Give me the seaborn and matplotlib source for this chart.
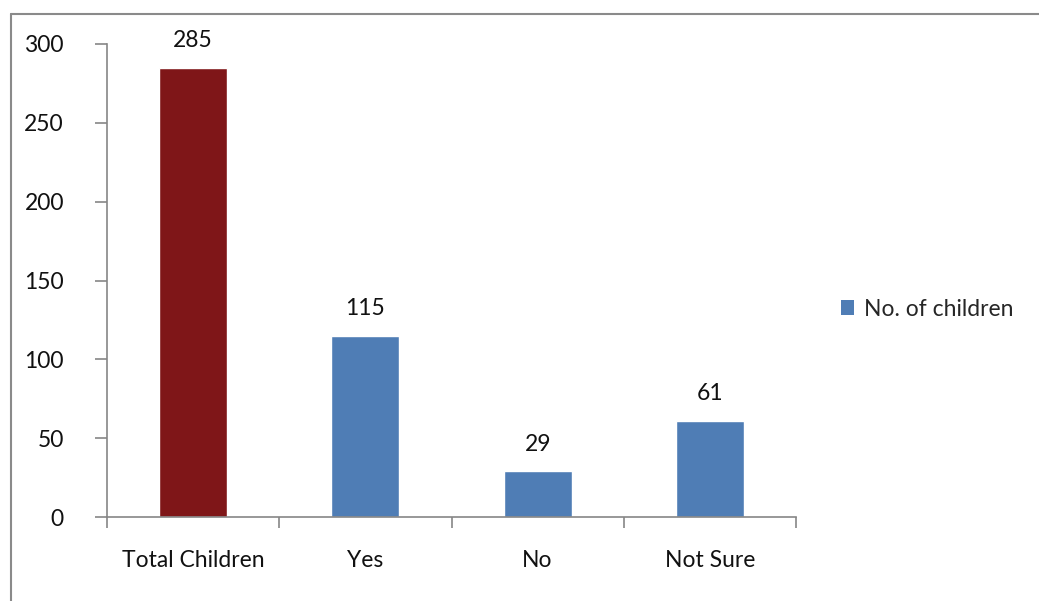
import matplotlib
matplotlib.use("Agg")
import matplotlib.pyplot as plt
import seaborn as sns
import pandas as pd
from matplotlib.patches import Patch
from matplotlib.lines import Line2D

categories = ["Total Children", "Yes", "No", "Not Sure"]
values = [285, 115, 29, 61]
bar_colors = ["#7F1618", "#4F7DB5", "#4F7DB5", "#4F7DB5"]
legend_label = "No. of children"
yticks = [0, 50, 100, 150, 200, 250, 300]

sns.set_theme(style="white")
plt.rcParams['font.family'] = ['Lato', 'DejaVu Sans']

FS = 16.5
TXT = "#111111"

df = pd.DataFrame({"cat": categories, "val": values})

fig = plt.figure(figsize=(10.39, 6.01), dpi=100)
ax = fig.add_axes([107/1039, 1-517/601, (796-107)/1039, (517-44)/601])

sns.barplot(data=df, x="cat", y="val", hue="cat", palette=bar_colors,
            width=0.395, saturation=1, legend=False, ax=ax, order=categories)

ax.set_xlim(-0.5, 3.5)
ax.set_ylim(0, 300)
ax.set_yticks(yticks)
ax.set_xlabel("")
ax.set_ylabel("")

for s in ["top", "right"]:
    ax.spines[s].set_visible(False)
for s in ["left", "bottom"]:
    ax.spines[s].set_color("#868686")
    ax.spines[s].set_linewidth(1.2)

ax.set_xticks([-0.5, 0.5, 1.5, 2.5, 3.5], minor=False)
ax.set_xticklabels([])
ax.set_xticks(range(len(categories)), minor=True)
ax.set_xticklabels(categories, minor=True)
ax.tick_params(axis="x", which="major", length=8, width=1.2, color="#868686", direction="out")
ax.tick_params(axis="x", which="minor", length=0, pad=24, labelsize=FS, labelcolor=TXT)
ax.tick_params(axis="y", length=9, width=1.2, color="#868686", direction="out", pad=22,
               labelsize=FS, labelcolor=TXT)
ax.tick_params(bottom=True, left=True, which="major")

for i, v in enumerate(values):
    ax.annotate(str(v), (i, v), xytext=(0, 12), textcoords="offset points",
                ha="center", va="bottom", fontsize=FS, color=TXT)

handles = [Patch(facecolor="#4F7DB5", edgecolor="none")]
fig.legend(handles, [legend_label], loc="center left", bbox_to_anchor=(820/1039, 1-309/601),
           frameon=False, fontsize=FS, handlelength=0.6, handleheight=0.6, handletextpad=0.4)

# figure border (top and left visible)
fig.add_artist(Line2D([11/1039, 1.0], [1-14/601, 1-14/601], transform=fig.transFigure,
                      color="#8a8a8a", lw=1.5))
fig.add_artist(Line2D([11/1039, 11/1039], [0, 1-14/601], transform=fig.transFigure,
                      color="#8a8a8a", lw=1.5))

fig.savefig("out.png", dpi=100)
